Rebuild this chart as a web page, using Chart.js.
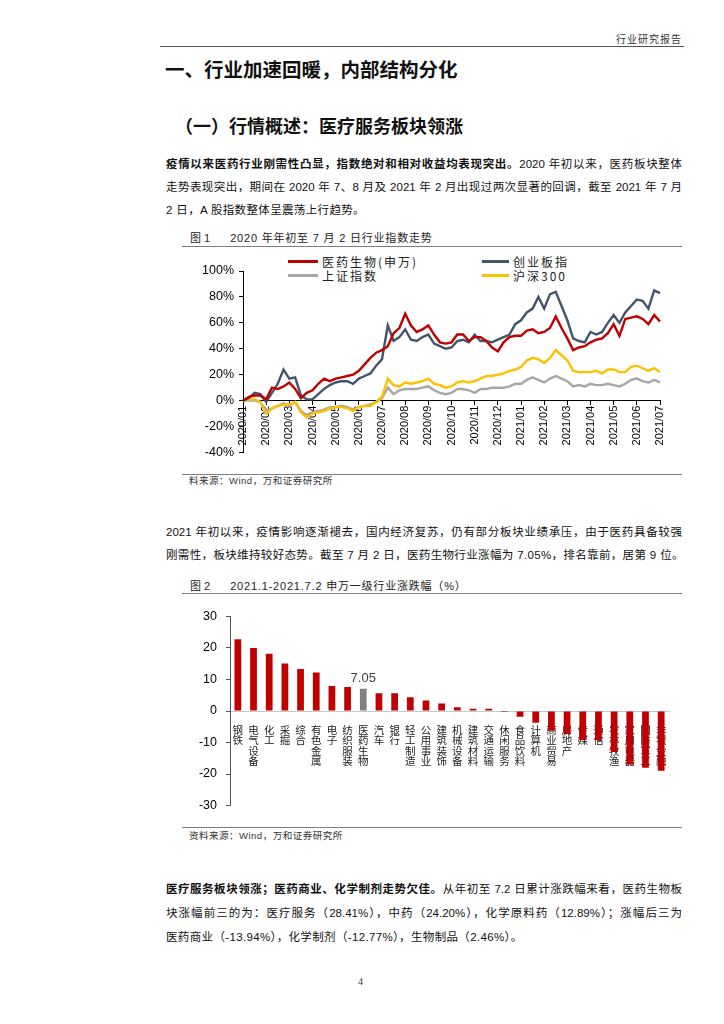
<!DOCTYPE html>
<html><head><meta charset="utf-8">
<script src="https://cdn.jsdelivr.net/npm/chart.js@4/dist/chart.umd.min.js"></script>
<style>
html,body{margin:0;padding:0;background:#fff;}
body{width:724px;height:1024px;position:relative;overflow:hidden;font-family:"Liberation Sans","Noto Sans CJK SC",sans-serif;color:#111;}
.abs{position:absolute;white-space:nowrap;}
.hr{position:absolute;height:0;border-top:1.5px solid #7f7f7f;}
.line{position:absolute;left:166px;width:516px;height:16px;line-height:16px;font-size:11.5px;white-space:normal;overflow:hidden;}
.j{text-align:justify;text-align-last:justify;}
.last{letter-spacing:0.35px;white-space:nowrap;overflow:visible;width:auto;}
b{font-weight:700;}
.cap{position:absolute;left:190px;font-size:11px;height:14px;line-height:14px;color:#222;white-space:nowrap;}
.cap span{margin-left:20px;letter-spacing:0.8px;}
.src{position:absolute;left:189px;font-size:9.5px;height:12px;line-height:12px;color:#333;white-space:nowrap;letter-spacing:0.5px;}
.lg{position:absolute;height:3px;}
.lt{position:absolute;font-size:12px;height:14px;line-height:14px;letter-spacing:2px;color:#222;white-space:nowrap;font-family:"Noto Sans CJK SC","Liberation Sans",sans-serif;}
canvas{position:absolute;}
</style></head>
<body>
<div class="abs" style="right:42px;top:31px;font-size:10px;letter-spacing:1px;color:#333;">行业研究报告</div>
<div class="hr" style="left:160px;width:524px;top:46px;border-top:1.5px solid #555;"></div>
<div class="abs" style="left:165px;top:58px;font-size:19.5px;font-weight:700;line-height:24px;">一、行业加速回暖，内部结构分化</div>
<div class="abs" style="left:175px;top:115px;font-size:18px;font-weight:700;line-height:24px;">（一）行情概述：医疗服务板块领涨</div>

<div class="line j" style="top:156px;"><b>疫情以来医药行业刚需性凸显，指数绝对和相对收益均表现突出。</b>2020 年初以来，医药板块整体</div>
<div class="line j" style="top:179px;">走势表现突出，期间在 2020 年 7、8 月及 2021 年 2 月出现过两次显著的回调，截至 2021 年 7 月</div>
<div class="line last" style="top:202px;">2 日，A 股指数整体呈震荡上行趋势。</div>

<div class="cap" style="top:231px;">图 1<span>2020 年年初至 7 月 2 日行业指数走势</span></div>
<div class="hr" style="left:182px;width:500px;top:246px;"></div>

<div class="lg" style="left:288px;top:260px;width:30px;background:#C00000;"></div>
<div class="lt" style="left:322px;top:255px;">医药生物(申万)</div>
<div class="lg" style="left:482px;top:260px;width:27px;background:#44546A;"></div>
<div class="lt" style="left:513px;top:255px;">创业板指</div>
<div class="lg" style="left:288px;top:274px;width:30px;background:#A6A6A6;"></div>
<div class="lt" style="left:322px;top:269px;">上证指数</div>
<div class="lg" style="left:482px;top:274px;width:27px;background:#FFC000;"></div>
<div class="lt" style="left:513px;top:269px;">沪深300</div>

<canvas id="c1" width="500" height="215" style="left:182px;top:250px;width:500px;height:215px;"></canvas>

<div class="hr" style="left:182px;width:500px;top:474px;"></div>
<div class="src" style="top:475px;">料来源：Wind，万和证券研究所</div>

<div class="line j" style="top:524px;">2021 年初以来，疫情影响逐渐褪去，国内经济复苏，仍有部分板块业绩承压，由于医药具备较强</div>
<div class="line last" style="top:547px;">刚需性，板块维持较好态势。截至 7 月 2 日，医药生物行业涨幅为 7.05%，排名靠前，居第 9 位。</div>

<div class="cap" style="top:579px;">图 2<span>2021.1-2021.7.2 申万一级行业涨跌幅（%）</span></div>
<div class="hr" style="left:182px;width:500px;top:593px;"></div>

<canvas id="c2" width="500" height="222" style="left:182px;top:600px;width:500px;height:222px;"></canvas>

<div class="hr" style="left:182px;width:500px;top:827px;"></div>
<div class="src" style="top:830px;">资料来源：Wind，万和证券研究所</div>

<div class="line j" style="top:881px;"><b>医疗服务板块领涨；医药商业、化学制剂走势欠佳。</b>从年初至 7.2 日累计涨跌幅来看，医药生物板</div>
<div class="line j" style="top:905px;">块涨幅前三的为：医疗服务（28.41%），中药（24.20%），化学原料药（12.89%）；涨幅后三为</div>
<div class="line last" style="top:929px;">医药商业（-13.94%），化学制剂（-12.77%），生物制品（2.46%）。</div>

<div class="abs" style="left:358px;top:976px;font-size:10px;font-family:'Liberation Serif',serif;color:#333;">4</div>

<script>
// ---- Figure 1 data (cumulative return, %, 4 readings per month) ----
const monthLabels = ['2020/01','2020/02','2020/03','2020/04','2020/05','2020/06','2020/07','2020/08','2020/09','2020/10','2020/11','2020/12','2021/01','2021/02','2021/03','2021/04','2021/05','2021/06','2021/07'];
const readingsPerMonth = 4;
const yiyao = [0,3,4,4,1,10,9,11,14,9,2,6,8,13,17,15,17,18,19,20,23,28,33,37,39,
  42,52,56,67,58,53,55,58,51,45,44,45,51,51,46,49,49,46,41,38,45,49,50,50,
  54,55,52,53,56,65,56,48,39,41,42,45,47,48,52,59,50,63,64,65,63,59,66,61];
const chuangye = [0,2,6,5,-1,6,13,24,17,18,4,1,1,5,9,12,14,15,15,13,17,19,21,27,32,
  58,46,49,55,47,46,49,51,44,42,40,41,46,47,45,51,46,46,45,47,49,51,59,62,
  68,71,80,71,82,84,73,62,48,46,45,53,51,53,60,66,60,68,73,78,77,71,85,83];
const shangzheng = [0,0,0,-1,-8,-6,-4,-2,-4,-1,-8,-11,-9,-8,-7,-5,-5,-4,-5,-7,-5,-4,-3,-1,2,
  10,5,8,9,9,9,10,11,8,6,5,6,9,9,8,6,9,9,10,10,10,11,13,13,
  16,18,16,14,17,19,17,15,11,12,11,13,12,12,13,12,11,13,16,17,15,14,16,14];
const hushen300 = [0,1,1,-1,-10,-6,-4,-3,-3,-1,-9,-13,-10,-9,-8,-6,-5,-5,-6,-8,-5,-4,-4,-1,3,
  17,12,11,14,13,14,15,17,13,12,10,11,14,15,14,15,17,19,19,20,21,23,24,26,
  31,33,32,29,33,39,35,31,23,22,22,22,23,21,24,24,22,22,26,27,25,23,25,22];
const yTicks1 = {min: -40, max: 100, step: 20};

// ---- Figure 2 data ----
const industries = ['钢铁','电气设备','化工','采掘','综合','有色金属','电子','纺织服装','医药生物','汽车','银行','轻工制造','公用事业','建筑装饰','机械设备','建筑材料','交通运输','休闲服务','食品饮料','计算机','商业贸易','房地产','传媒','通信','农林牧渔','家用电器','国防军工','非银金融'];
const changes = [22.8,20.0,18.2,15.1,13.3,12.2,7.9,7.6,7.05,5.6,5.6,4.4,3.3,2.4,1.2,0.7,0.7,-0.3,-1.8,-3.7,-6.3,-7.3,-9.3,-9.3,-13.0,-17.0,-18.0,-19.0];
const highlight = '医药生物';
const yTicks2 = {min: -30, max: 30, step: 10};

const xLabels1 = yiyao.map((_, i) => (i % readingsPerMonth === 0 ? monthLabels[i / readingsPerMonth] : ''));

function lineDs(data, color) {
  return {data, borderColor: color, borderWidth: 2.4, pointRadius: 0, tension: 0, fill: false};
}

new Chart(document.getElementById('c1'), {
  type: 'line',
  data: {
    labels: xLabels1,
    datasets: [lineDs(yiyao, '#C00000'), lineDs(chuangye, '#44546A'), lineDs(hushen300, '#FFC000'), lineDs(shangzheng, '#A6A6A6')]
  },
  options: {
    responsive: false, animation: false,
    layout: {padding: {left: 0, right: 22, top: 21, bottom: 12}},
    plugins: {legend: {display: false}, tooltip: {enabled: false}},
    scales: {
      x: {
        type: 'category', position: {y: 0}, offset: false,
        grid: {display: true, drawOnChartArea: false, drawTicks: true, tickLength: 4,
               tickColor: (ctx) => (ctx.tick && ctx.tick.label ? '#000' : 'rgba(0,0,0,0)')},
        border: {display: true, color: '#000', width: 1},
        ticks: {autoSkip: false, maxRotation: 90, minRotation: 90, padding: 1, color: '#000',
                font: {family: 'Liberation Sans', size: 11}}
      },
      y: {
        min: yTicks1.min, max: yTicks1.max,
        ticks: {stepSize: yTicks1.step, callback: (v) => v + '%', color: '#000', padding: 5,
                font: {family: 'Liberation Sans', size: 12.5}},
        grid: {drawOnChartArea: false, tickLength: 4, tickColor: '#000'},
        border: {display: true, color: '#000', width: 1},
        afterFit: (s) => { s.width = 61; }
      }
    }
  }
});

const valueLabel = {
  id: 'valueLabel',
  afterDatasetsDraw(chart) {
    const idx = industries.indexOf(highlight);
    const bar = chart.getDatasetMeta(0).data[idx];
    const c = chart.ctx;
    c.save();
    c.font = '13px "Liberation Sans"';
    c.fillStyle = '#404040';
    c.textAlign = 'center';
    c.textBaseline = 'middle';
    c.fillText(changes[idx].toFixed(2), bar.x, bar.y - 10);
    c.restore();
  }
};

new Chart(document.getElementById('c2'), {
  type: 'bar',
  data: {
    labels: industries.map((s) => s.split('')),
    datasets: [{
      data: changes,
      backgroundColor: industries.map((s) => (s === highlight ? '#808080' : '#C00000')),
      barPercentage: 0.43, categoryPercentage: 1
    }]
  },
  options: {
    responsive: false, animation: false,
    layout: {padding: {left: 0, right: 13, top: 14, bottom: 8}},
    plugins: {legend: {display: false}, tooltip: {enabled: false}},
    scales: {
      x: {
        position: {y: 0}, offset: true, z: 1,
        grid: {display: false},
        border: {display: true, color: '#c8c8c8', width: 1},
        ticks: {autoSkip: false, maxRotation: 0, minRotation: 0, padding: 6, color: '#222',
                font: {family: 'Noto Sans CJK SC', size: 10.5, lineHeight: 0.98}}
      },
      y: {
        min: yTicks2.min, max: yTicks2.max,
        ticks: {stepSize: yTicks2.step, color: '#000', padding: 9, font: {family: 'Liberation Sans', size: 12.5}},
        grid: {drawOnChartArea: false, tickLength: 4, tickColor: '#555'},
        border: {display: true, color: '#555', width: 1},
        afterFit: (s) => { s.width = 48; }
      }
    }
  },
  plugins: [valueLabel]
});
</script>
</body></html>
